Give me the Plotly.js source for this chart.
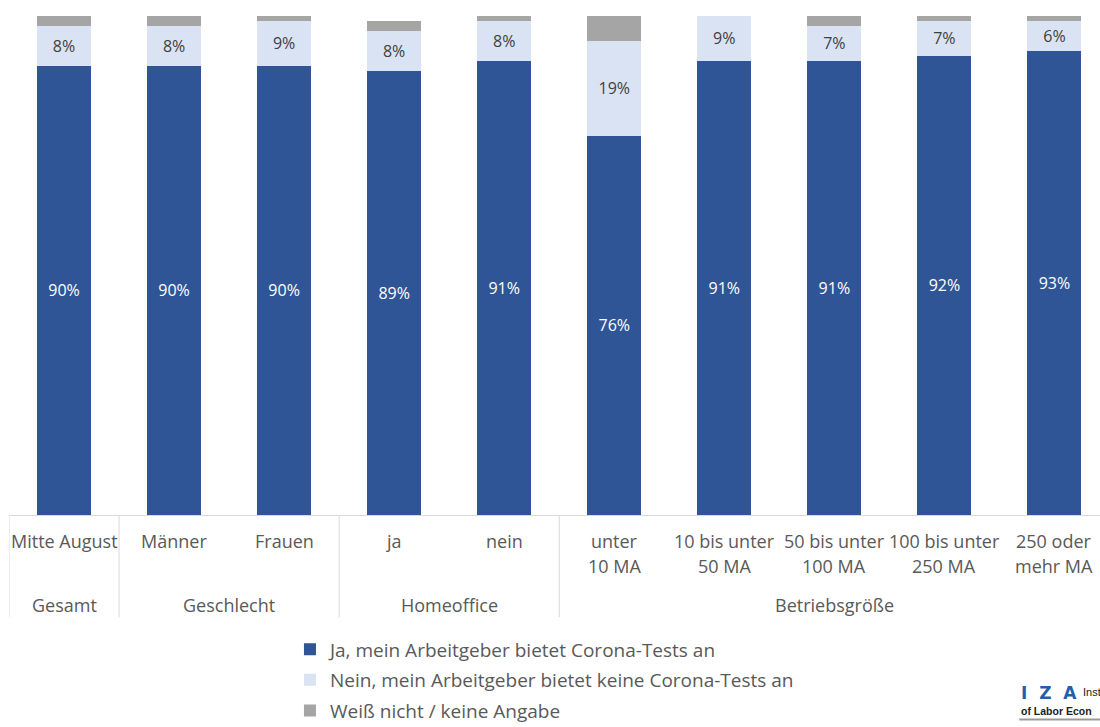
<!DOCTYPE html>
<html>
<head>
<meta charset="utf-8">
<script src="https://cdn.plot.ly/plotly-3.0.1.min.js"></script>
<style>html,body{margin:0;padding:0;background:#fff;}#chart{width:1100px;height:727px;}</style>
</head>
<body>
<div id="chart"></div>
<script>
const categories = ["Mitte August", "Männer", "Frauen", "ja", "nein", "unter<br>10 MA", "10 bis unter<br>50 MA", "50 bis unter<br>100 MA", "100 bis unter<br>250 MA", "250 oder<br>mehr MA"];
const groups = ["Gesamt", "Geschlecht", "Homeoffice", "Betriebsgröße"];
const groupSizes = [1, 2, 2, 5];
const seriesNames = ["Ja, mein Arbeitgeber bietet Corona-Tests an", "Nein, mein Arbeitgeber bietet keine Corona-Tests an", "Weiß nicht / keine Angabe"];
const ja = [90, 90, 90, 89, 91, 76, 91, 91, 92, 93];
const nein = [8, 8, 9, 8, 8, 19, 9, 7, 7, 6];
const weissNicht = [2, 2, 1, 2, 1, 5, 0, 2, 1, 1];

const colors = ["#2F5597", "#DAE3F3", "#A5A5A5"];
const FONT = "'Open Sans', Lato, sans-serif";
const xIdx = categories.map((_, i) => i);

const traces = [
  {type: "bar", name: seriesNames[0], x: xIdx, y: ja, marker: {color: colors[0]},
   texttemplate: "%{y}%", textposition: "inside", insidetextanchor: "middle",
   textfont: {color: "#ffffff", size: 16, family: FONT}, legendgroup: "a", hoverinfo: "y"},
  {type: "bar", name: seriesNames[1], x: xIdx, y: nein, marker: {color: colors[1]},
   texttemplate: "%{y}%", textposition: "inside", insidetextanchor: "middle",
   textfont: {color: "#404040", size: 16, family: FONT}, legendgroup: "b", hoverinfo: "y"},
  {type: "bar", name: seriesNames[2], x: xIdx, y: weissNicht, marker: {color: colors[2]},
   textposition: "none", legendgroup: "c", hoverinfo: "y"}
];

const shapes = [];
const annotations = [];
const lblFont = {size: 18, color: "#595959", family: FONT};

// first-level category labels (one annotation per line for Excel-like spacing)
categories.forEach((c, i) => {
  c.split("<br>").forEach((line, k) => {
    annotations.push({xref: "x", yref: "paper", x: i, y: -0.052 - k * 0.05, text: line, showarrow: false,
      yanchor: "middle", font: lblFont});
  });
});

// group separators and group labels
let start = 0;
shapes.push({type: "line", xref: "x", yref: "paper", x0: -0.5, x1: -0.5, y0: 0, y1: -0.205, line: {color: "#D9D9D9", width: 1}});
groups.forEach((g, i) => {
  const end = start + groupSizes[i] - 1;
  annotations.push({xref: "x", yref: "paper", x: (start + end) / 2, y: -0.181, text: g, showarrow: false,
    yanchor: "middle", font: lblFont});
  if (i < groups.length - 1) {
    shapes.push({type: "line", xref: "x", yref: "paper", x0: end + 0.5, x1: end + 0.5, y0: 0, y1: -0.205, line: {color: "#D9D9D9", width: 1}});
  }
  start = end + 1;
});

// IZA logo text
annotations.push({xref: "paper", yref: "paper", x: 0.926, y: -0.357, xanchor: "left", yanchor: "middle", showarrow: false,
  text: "<b>I  Z  A</b>", font: {size: 17, color: "#1F5FAE", family: "'DejaVu Sans', sans-serif"}});
annotations.push({xref: "paper", yref: "paper", x: 0.983, y: -0.355, xanchor: "left", yanchor: "middle", showarrow: false,
  text: "Inst", font: {size: 11, color: "#222", family: "'Liberation Sans', sans-serif"}});
annotations.push({xref: "paper", yref: "paper", x: 0.926, y: -0.392, xanchor: "left", yanchor: "middle", showarrow: false,
  text: "<b>of Labor Econ</b>", font: {size: 10.5, color: "#222", family: "'Liberation Sans', sans-serif"}});
shapes.push({type: "line", xref: "paper", yref: "paper", x0: 0.926, x1: 1.0, y0: -0.41, y1: -0.41, line: {color: "#999", width: 2}});

const layout = {
  width: 1100, height: 727,
  margin: {l: 9, r: 0, t: 16, b: 212, autoexpand: false},
  paper_bgcolor: "#ffffff", plot_bgcolor: "#ffffff",
  barmode: "stack", bargap: 0.51,
  showlegend: true,
  legend: {xref: "container", yref: "container", x: 0.2636, y: 0.133, xanchor: "left", yanchor: "top",
    traceorder: "grouped", tracegroupgap: 3,
    font: {size: 19, color: "#595959", family: FONT}, itemwidth: 30, bgcolor: "rgba(0,0,0,0)"},
  xaxis: {range: [-0.5, 9.414], tickvals: xIdx, showticklabels: false, showgrid: false, zeroline: false,
    showline: true, linecolor: "#D9D9D9", linewidth: 1, ticks: "", fixedrange: true},
  yaxis: {range: [0, 100], visible: false, showgrid: false, zeroline: false, fixedrange: true},
  shapes: shapes,
  annotations: annotations,
  font: {family: FONT}
};

Plotly.newPlot("chart", traces, layout, {displayModeBar: false, staticPlot: true});
</script>
</body>
</html>
